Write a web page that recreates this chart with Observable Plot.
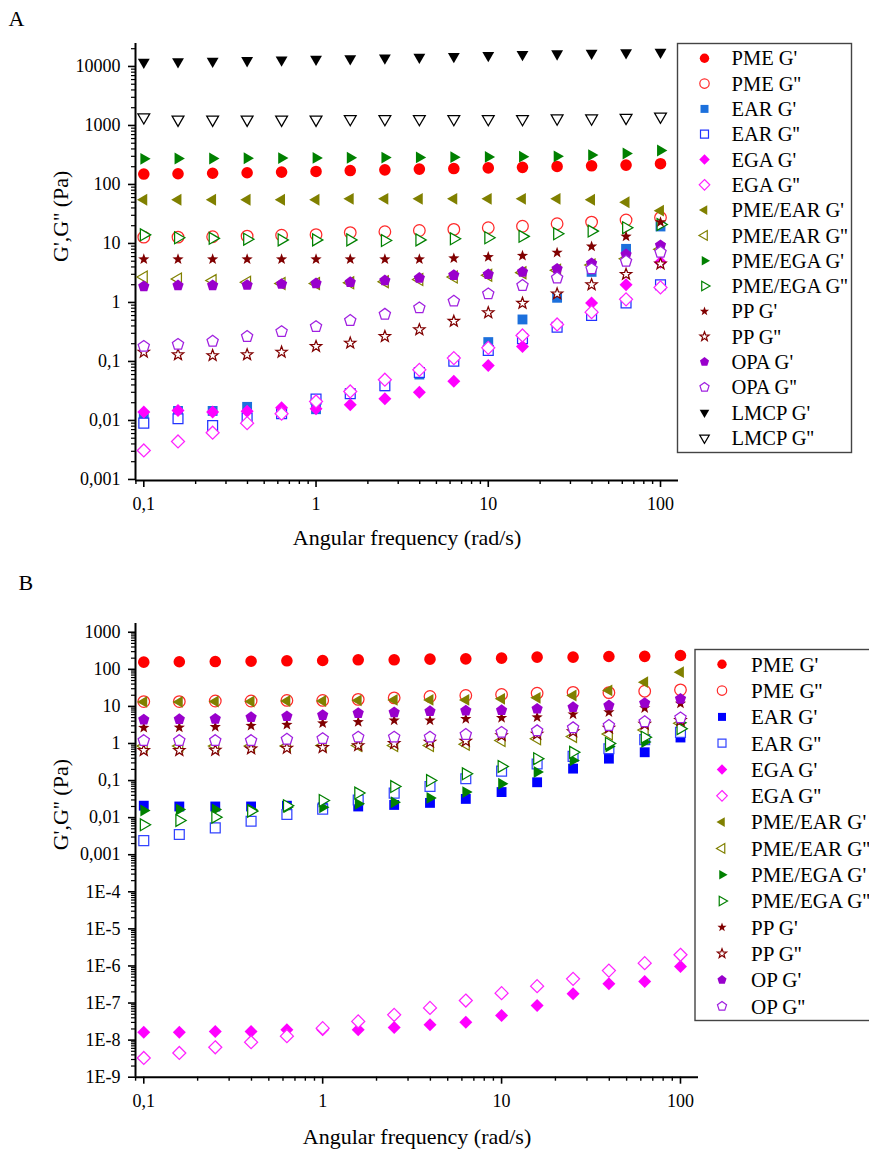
<!DOCTYPE html>
<html><head><meta charset="utf-8">
<script src="https://cdn.jsdelivr.net/npm/d3@7"></script>
<script src="https://cdn.jsdelivr.net/npm/@observablehq/plot@0.6"></script>
<style>
body{margin:0;background:#fff;}
#root{position:relative;width:869px;height:1151px;font-family:"Liberation Serif","Times New Roman",serif;overflow:hidden;background:#fff;}
#root > svg{position:absolute;left:0;}
</style></head><body><div id="root"></div>
<script>
// ---------- data ----------
const freq = [0.1, 0.158, 0.251, 0.398, 0.631, 1, 1.58, 2.51, 3.98, 6.31, 10, 15.8, 25.1, 39.8, 63.1, 100];

const xTicks = [0.1, 1, 10, 100];
const xTickLabels = ["0,1", "1", "10", "100"];
const yTicksA = [0.001, 0.01, 0.1, 1, 10, 100, 1000, 10000];
const yTickLabelsA = ["0,001", "0,01", "0,1", "1", "10", "100", "1000", "10000"];
const yTicksB = [1e-9, 1e-8, 1e-7, 1e-6, 1e-5, 1e-4, 0.001, 0.01, 0.1, 1, 10, 100, 1000];
const yTickLabelsB = ["1E-9", "1E-8", "1E-7", "1E-6", "1E-5", "1E-4", "0,001", "0,01", "0,1", "1", "10", "100", "1000"];

// Panel A
const a_PME_G1 = [150,152,155,158,162,166,172,177,182,186,191,195,202,207,213,225];
const a_PME_G2 = [12.8,12.8,13,13.3,13.8,14.1,15.3,15.8,16.6,17.3,18.5,19.6,21.6,23,25,27.5];
const a_EAR_G1 = [0.012,0.0145,0.0145,0.017,0.0135,0.0155,0.029,0.038,0.06,0.105,0.213,0.515,1.2,3.3,8.1,19.4];
const a_EAR_G2 = [0.009,0.0107,0.0082,0.011,0.013,0.023,0.0283,0.039,0.065,0.101,0.153,0.242,0.38,0.6,0.98,2.0];
const a_EGA_G1 = [0.0139,0.0148,0.0139,0.0143,0.0164,0.0158,0.0184,0.0233,0.03,0.046,0.0855,0.18,0.42,0.98,2.0,4.8];
const a_EGA_G2 = [0.0031,0.0044,0.0062,0.009,0.013,0.021,0.031,0.049,0.072,0.114,0.17,0.276,0.424,0.685,1.13,1.8];
const a_PMEEAR_G1 = [55,55,55,55,55,55,57,57,57,57,57,57,57,55,50,36];
const a_PMEEAR_G2 = [2.7,2.5,2.35,2.2,2.1,2.1,2.15,2.25,2.45,2.7,2.9,3.2,3.5,4.3,5.5,8];
const a_PMEEGA_G1 = [272,275,275,278,280,282,284,285,287,290,293,296,300,315,335,377];
const a_PMEEGA_G2 = [14,12.5,12.2,11.8,11.5,11.5,11.5,11.2,11.5,12,12.5,13.2,14.6,16.2,18.5,21];
const a_PP_G1 = [5.4,5.4,5.4,5.4,5.4,5.4,5.4,5.4,5.4,5.6,5.9,6.2,7.0,8.9,13.1,23];
const a_PP_G2 = [0.144,0.13,0.126,0.13,0.144,0.18,0.205,0.265,0.345,0.48,0.67,0.97,1.4,2.0,3.0,4.5];
const a_OPA_G1 = [1.87,1.94,1.95,1.97,2.05,2.1,2.2,2.36,2.6,2.9,3.0,3.3,3.7,4.6,6.5,9.3];
const a_OPA_G2 = [0.18,0.195,0.22,0.265,0.32,0.39,0.495,0.63,0.81,1.05,1.4,1.94,2.6,3.7,5.0,7.1];
const a_LMCP_G1 = [11800,12100,12300,12600,12900,13300,13600,14000,14400,14800,15400,16000,16400,16800,17100,17500];
const a_LMCP_G2 = [1380,1260,1260,1260,1260,1260,1290,1290,1290,1290,1290,1290,1320,1320,1350,1420];

// Panel B
const b_PME_G1 = [156,160,162,165,170,173,181,181,188,192,200,213,213,222,224,236];
const b_PME_G2 = [13.5,13.5,14,14,14.5,14.5,15.5,17,18.5,19.7,21,22.7,24,23.5,25.7,28];
const b_EAR_G1 = [0.021,0.02,0.02,0.02,0.021,0.019,0.02,0.022,0.025,0.032,0.049,0.09,0.21,0.39,0.58,1.45];
const b_EAR_G2 = [0.0024,0.0035,0.0053,0.008,0.0122,0.017,0.03,0.046,0.069,0.112,0.18,0.28,0.45,0.72,1.27,2.0];
const b_EGA_G1 = [1.64e-8,1.64e-8,1.71e-8,1.71e-8,1.9e-8,1.9e-8,1.9e-8,2.2e-8,2.6e-8,3.05e-8,4.6e-8,8.6e-8,1.77e-7,3.3e-7,3.8e-7,9.7e-7];
const b_EGA_G2 = [3.3e-9,4.5e-9,6.4e-9,8.8e-9,1.28e-8,2.1e-8,3.2e-8,4.8e-8,7.4e-8,1.17e-7,1.85e-7,2.85e-7,4.5e-7,7.5e-7,1.19e-6,2.0e-6];
const b_PMEEAR_G1 = [13.2,13.2,13.6,13.6,14,14,14.5,15,15,15,16,17,19.7,27,45,84];
const b_PMEEAR_G2 = [0.85,0.85,0.85,0.85,0.85,0.88,0.88,0.88,0.88,0.95,1.2,1.34,1.55,1.8,2.3,3.5];
const b_PMEEGA_G1 = [0.0156,0.0166,0.0166,0.0165,0.019,0.019,0.0236,0.026,0.034,0.049,0.082,0.17,0.35,0.83,1.1,3.6];
const b_PMEEGA_G2 = [0.0064,0.0084,0.0103,0.015,0.021,0.029,0.046,0.069,0.1,0.152,0.24,0.39,0.58,1.0,1.48,2.5];
const b_PP_G1 = [2.65,2.7,2.8,3.0,3.2,3.5,3.8,4.2,4.2,4.6,4.9,5.1,6.1,7.0,9.0,12];
const b_PP_G2 = [0.65,0.65,0.66,0.72,0.75,0.78,0.88,1.0,1.09,1.16,1.64,1.8,2.1,2.6,3.3,4.2];
const b_OP_G1 = [4.4,4.5,4.6,5.1,5.4,5.8,6.6,6.9,7.4,7.7,7.9,8.6,9.5,10.6,12.3,16];
const b_OP_G2 = [1.2,1.2,1.2,1.2,1.3,1.35,1.48,1.48,1.48,1.75,2.0,2.2,2.65,3.05,3.85,4.9];

// ---------- symbols ----------
function polySym(pts) {
  return {draw(ctx, size) {
    const R = Math.sqrt(size / Math.PI);
    ctx.moveTo(pts[0][0] * R, pts[0][1] * R);
    for (let i = 1; i < pts.length; ++i) ctx.lineTo(pts[i][0] * R, pts[i][1] * R);
    ctx.closePath();
  }};
}
function ngon(n, rad, start) {
  return d3.range(n).map(i => [rad * Math.cos(start + i * 2 * Math.PI / n), rad * Math.sin(start + i * 2 * Math.PI / n)]);
}
function starPts(ro, ri) {
  return d3.range(10).map(i => {
    const a = -Math.PI / 2 + i * Math.PI / 5, r = i % 2 ? ri : ro;
    return [r * Math.cos(a), r * Math.sin(a)];
  });
}
const T = 1.18;
const SYM = {
  circle: {draw(ctx, size) { const R = Math.sqrt(size / Math.PI); ctx.moveTo(R, 0); ctx.arc(0, 0, R, 0, 2 * Math.PI); ctx.closePath(); }},
  square: polySym([[-0.85,-0.85],[0.85,-0.85],[0.85,0.85],[-0.85,0.85]]),
  diamond: polySym([[0,-1.12],[1.12,0],[0,1.12],[-1.12,0]]),
  left: polySym(ngon(3, T, Math.PI)),
  right: polySym(ngon(3, T, 0)),
  down: polySym(ngon(3, T, Math.PI / 2)),
  star: polySym(starPts(1.02, 0.42)),
  pentagon: polySym(ngon(5, 1.02, -Math.PI / 2))
};

// ---------- series meta ----------
const seriesA = [
  {label: "PME G'", values: a_PME_G1, color: "#ff0000", sym: "circle", open: false},
  {label: "PME G''", values: a_PME_G2, color: "#ff2a2a", sym: "circle", open: true},
  {label: "EAR G'", values: a_EAR_G1, color: "#1c70dc", sym: "square", open: false},
  {label: "EAR G''", values: a_EAR_G2, color: "#2233ff", sym: "square", open: true},
  {label: "EGA G'", values: a_EGA_G1, color: "#ff00ff", sym: "diamond", open: false},
  {label: "EGA G''", values: a_EGA_G2, color: "#ff22ff", sym: "diamond", open: true},
  {label: "PME/EAR G'", values: a_PMEEAR_G1, color: "#808000", sym: "left", open: false},
  {label: "PME/EAR G''", values: a_PMEEAR_G2, color: "#808000", sym: "left", open: true},
  {label: "PME/EGA G'", values: a_PMEEGA_G1, color: "#008000", sym: "right", open: false},
  {label: "PME/EGA G''", values: a_PMEEGA_G2, color: "#008000", sym: "right", open: true},
  {label: "PP G'", values: a_PP_G1, color: "#800000", sym: "star", open: false},
  {label: "PP G''", values: a_PP_G2, color: "#800000", sym: "star", open: true},
  {label: "OPA G'", values: a_OPA_G1, color: "#9900cc", sym: "pentagon", open: false},
  {label: "OPA G''", values: a_OPA_G2, color: "#a020e0", sym: "pentagon", open: true},
  {label: "LMCP G'", values: a_LMCP_G1, color: "#000000", sym: "down", open: false},
  {label: "LMCP G''", values: a_LMCP_G2, color: "#000000", sym: "down", open: true}
];
const seriesB = [
  {label: "PME G'", values: b_PME_G1, color: "#ff0000", sym: "circle", open: false},
  {label: "PME G''", values: b_PME_G2, color: "#ff2a2a", sym: "circle", open: true},
  {label: "EAR G'", values: b_EAR_G1, color: "#0000ff", sym: "square", open: false},
  {label: "EAR G''", values: b_EAR_G2, color: "#3344ff", sym: "square", open: true},
  {label: "EGA G'", values: b_EGA_G1, color: "#ff00ff", sym: "diamond", open: false},
  {label: "EGA G''", values: b_EGA_G2, color: "#ff22ff", sym: "diamond", open: true},
  {label: "PME/EAR G'", values: b_PMEEAR_G1, color: "#808000", sym: "left", open: false},
  {label: "PME/EAR G''", values: b_PMEEAR_G2, color: "#808000", sym: "left", open: true},
  {label: "PME/EGA G'", values: b_PMEEGA_G1, color: "#008000", sym: "right", open: false},
  {label: "PME/EGA G''", values: b_PMEEGA_G2, color: "#008000", sym: "right", open: true},
  {label: "PP G'", values: b_PP_G1, color: "#800000", sym: "star", open: false},
  {label: "PP G''", values: b_PP_G2, color: "#800000", sym: "star", open: true},
  {label: "OP G'", values: b_OP_G1, color: "#9900cc", sym: "pentagon", open: false},
  {label: "OP G''", values: b_OP_G2, color: "#a020e0", sym: "pentagon", open: true}
];

// ---------- helpers ----------
function minorTicks(lo, hi) {
  const out = [];
  for (let e = Math.floor(Math.log10(lo)); e <= Math.ceil(Math.log10(hi)); ++e)
    for (let k = 2; k <= 9; ++k) { const v = k * Math.pow(10, e); if (v >= lo && v <= hi) out.push(v); }
  return out;
}
function dotMarks(series) {
  return series.map(s => Plot.dot(freq.map((f, i) => ({freq: f, value: s.values[i]})), {
    x: "freq", y: "value", r: 5.8, symbol: SYM[s.sym],
    fill: s.open ? "#ffffff" : s.color,
    stroke: s.open ? s.color : "none",
    strokeWidth: 1.25
  }));
}
function panel({xDomain, yDomain, yTicks, yLabels, width, height, mt, mb, mr, letter, letterDx, letterDy, xTitleDy}) {
  const yLab = new Map(yTicks.map((t, i) => [t, yLabels[i]]));
  const xLab = new Map(xTicks.map((t, i) => [t, xTickLabels[i]]));
  return Plot.plot({
    width, height, marginLeft: 135, marginRight: mr, marginTop: mt, marginBottom: mb,
    x: {type: "log", domain: xDomain},
    y: {type: "log", domain: yDomain},
    style: {fontFamily: "'Liberation Serif', 'Times New Roman', serif", fontSize: "18px", color: "#000", background: "transparent", overflow: "visible"},
    marks: [
      Plot.axisX(minorTicks(xDomain[0], xDomain[1]), {anchor: "bottom", tickSize: 4, tickFormat: () => "", label: null, strokeWidth: 1.4}),
      Plot.axisX(xTicks, {anchor: "bottom", tickSize: 7, tickPadding: 10, tickFormat: d => xLab.get(d), label: null, fontSize: 18, strokeWidth: 1.6}),
      Plot.axisY(minorTicks(yDomain[0], yDomain[1]), {anchor: "left", tickSize: 4, tickFormat: () => "", label: null, strokeWidth: 1.2}),
      Plot.axisY(yTicks, {anchor: "left", tickSize: 7, tickPadding: 8, tickFormat: d => yLab.get(d), label: null, fontSize: 18, strokeWidth: 1.6}),
      Plot.ruleX([xDomain[0]], {stroke: "#000", strokeWidth: 2}),
      Plot.ruleY([yDomain[0]], {stroke: "#000", strokeWidth: 2}),
      ...dotMarks(letter === "A" ? seriesA : seriesB),
      Plot.text(["Angular frequency (rad/s)"], {frameAnchor: "bottom", dy: xTitleDy, fontSize: 22, lineAnchor: "middle"}),
      Plot.text(["G',G'' (Pa)"], {frameAnchor: "left", dx: -75, rotate: -90, fontSize: 22, lineAnchor: "middle"}),
      Plot.text([letter], {frameAnchor: "top-left", dx: letterDx, dy: letterDy, fontSize: 22, textAnchor: "start", lineAnchor: "middle"})
    ]
  });
}

const root = document.getElementById("root");

const plotA = panel({
  xDomain: [0.0895, 127.2], yDomain: [0.00096, 24500],
  yTicks: yTicksA, yLabels: yTickLabelsA,
  width: 700, height: 560, mt: 43, mb: 80, mr: 22,
  letter: "A", letterDx: -127, letterDy: -25, xTitleDy: 57
});
plotA.style.top = "0px";
root.appendChild(plotA);

const plotB = panel({
  xDomain: [0.0899, 126.1], yDomain: [1e-9, 1722],
  yTicks: yTicksB, yLabels: yTickLabelsB,
  width: 700, height: 591, mt: 63, mb: 74.3, mr: 2,
  letter: "B", letterDx: -117, letterDy: -41, xTitleDy: 60
});
plotB.style.top = "560px";
root.appendChild(plotB);

// ---------- legends ----------
const leg = d3.select(root).append("svg")
  .attr("width", 869).attr("height", 1151)
  .style("top", "0px")
  .style("font-family", "'Liberation Serif', 'Times New Roman', serif");

function legend(series, {x, y, w, h, sx, tx, y0, dy, fs}) {
  leg.append("rect").attr("x", x).attr("y", y).attr("width", w).attr("height", h)
    .attr("fill", "#fff").attr("stroke", "#444").attr("stroke-width", 1.4);
  series.forEach((s, i) => {
    const cy = y0 + i * dy;
    leg.append("path").attr("transform", `translate(${sx},${cy})`)
      .attr("d", d3.symbol(SYM[s.sym], Math.PI * 4.7 * 4.7)())
      .attr("fill", s.open ? "#fff" : s.color)
      .attr("stroke", s.open ? s.color : "none").attr("stroke-width", 1.2);
    leg.append("text").attr("x", tx).attr("y", cy).attr("dy", "0.35em")
      .attr("font-size", fs).attr("fill", "#000").text(s.label);
  });
}
legend(seriesA, {x: 677.5, y: 43.5, w: 174, h: 409, sx: 704.5, tx: 731.5, y0: 58.3, dy: 25.3, fs: 20.5});
legend(seriesB, {x: 695, y: 649.5, w: 200, h: 371, sx: 722, tx: 751, y0: 664.3, dy: 26.3, fs: 21});
</script>
</body></html>
